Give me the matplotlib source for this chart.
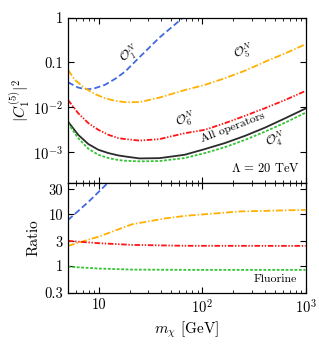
import numpy as np
import matplotlib
matplotlib.use("Agg")
import matplotlib.pyplot as plt
from matplotlib.ticker import FixedLocator, FixedFormatter, LogLocator, NullLocator, NullFormatter

plt.rcParams["font.family"] = ["cmr10", "DejaVu Serif"]
plt.rcParams["mathtext.fontset"] = "cm"
plt.rcParams["axes.unicode_minus"] = False
plt.rcParams["lines.scale_dashes"] = False

# top panel: |C_1^(5)|^2 vs m_chi (GeV)
x_o1 = [5, 6.28, 7.3, 7.87, 9.14, 11.4, 14.3, 17.9, 24.6, 38.5, 50, 65]
y_o1 = [0.036, 0.0273, 0.0255, 0.0251, 0.0265, 0.0314, 0.0428, 0.0622, 0.13, 0.36, 0.6, 1.0]

x_o5 = [5, 5.83, 7.3, 9.14, 11.4, 14.3, 17.9, 24.6, 38.5, 67.5, 106, 166, 260, 407, 638, 1000]
y_o5 = [0.068, 0.0406, 0.0265, 0.0195, 0.0158, 0.0138, 0.0129, 0.0129, 0.0163, 0.024,
        0.0314, 0.0443, 0.0655, 0.104, 0.160, 0.255]

x_c = [5, 6.28, 7.87, 9.84, 12.3, 15.4, 17.9, 24.6, 38.5, 67.5, 106, 166, 260, 407, 638, 1000]
y_o6 = [0.0145, 0.0073, 0.00438, 0.0031, 0.0024, 0.00202, 0.00192, 0.00178, 0.00192, 0.0026,
        0.0031, 0.00438, 0.0064, 0.0095, 0.0145, 0.023]
y_all = [0.00475, 0.0024, 0.00149, 0.00111, 0.000935, 0.000828, 0.000785, 0.00071, 0.00072,
         0.000857, 0.00115, 0.00157, 0.00228, 0.00349, 0.00566, 0.0093]
y_o4 = [0.00438, 0.00202, 0.00117, 0.000857, 0.000724, 0.000653, 0.00063, 0.00061, 0.00062,
        0.000724, 0.000935, 0.00127, 0.00185, 0.00284, 0.00452, 0.0075]

# bottom panel: ratios
xr_o1 = [5, 7.9, 12.3, 15]
yr_o1 = [7.7, 17.3, 41, 59]
xr_o5 = [5, 10, 21, 44, 69, 232, 1000]
yr_o5 = [2.44, 3.7, 6.4, 8.3, 9.3, 11.3, 12.1]
xr = [5, 10, 21, 69, 1000]
yr_o6 = [3.05, 2.75, 2.55, 2.45, 2.44]
yr_o4 = [0.97, 0.89, 0.85, 0.84, 0.84]

blue = "#4169E1"
orange = "#FFB000"
red = "#FF1414"
green = "#33C433"
black = "#2b2b2b"
lw = 1.3
d_o1 = [4.5, 2.2]
d_o5 = [5, 1.5, 1, 1.5]
d_o6 = [4, 1.2, 1, 1.2, 1, 1.2]
d_o4 = [2, 1.2]

fig = plt.figure(figsize=(3.19, 3.51), dpi=100)
ax1 = fig.add_axes([0.213, 0.4786, 0.745, 0.471])
ax2 = fig.add_axes([0.213, 0.1652, 0.745, 0.3134])

ax1.plot(x_o1, y_o1, color=blue, lw=lw, dashes=d_o1)
ax1.plot(x_o5, y_o5, color=orange, lw=lw, dashes=d_o5)
ax1.plot(x_c, y_o6, color=red, lw=lw, dashes=d_o6)
ax1.plot(x_c, y_all, color=black, lw=lw)
ax1.plot(x_c, y_o4, color=green, lw=lw, dashes=d_o4)

ax2.plot(xr_o1, yr_o1, color=blue, lw=lw, dashes=d_o1)
ax2.plot(xr_o5, yr_o5, color=orange, lw=lw, dashes=d_o5)
ax2.plot(xr, yr_o6, color=red, lw=lw, dashes=d_o6)
ax2.plot(xr, yr_o4, color=green, lw=lw, dashes=d_o4)

for ax in (ax1, ax2):
    ax.set_xscale("log")
    ax.set_yscale("log")
    ax.set_xlim(5, 1000)
    ax.tick_params(which="both", direction="in", top=True, right=True, labelsize=10.5)
    ax.tick_params(which="major", length=4, width=0.8)
    ax.tick_params(which="minor", length=2, width=0.6)
    ax.xaxis.set_minor_locator(LogLocator(base=10, subs=np.arange(2, 10)))
    ax.xaxis.set_minor_formatter(NullFormatter())
    for s in ax.spines.values():
        s.set_linewidth(0.9)

ax1.set_ylim(2e-4, 1)
ax1.yaxis.set_major_locator(FixedLocator([1e-3, 1e-2, 0.1, 1]))
ax1.yaxis.set_major_formatter(FixedFormatter([r"$10^{-3}$", r"$10^{-2}$", "0.1", "1"]))
ax1.yaxis.set_minor_locator(NullLocator())
ax1.xaxis.set_major_formatter(NullFormatter())
ax1.set_ylabel(r"$|C_1^{(5)}|^2$", fontsize=11, labelpad=1)

ax2.set_ylim(0.3, 40)
ax2.yaxis.set_major_locator(FixedLocator([0.3, 1, 3, 10, 30]))
ax2.yaxis.set_major_formatter(FixedFormatter(["0.3", "1", "3", "10", "30"]))
ax2.yaxis.set_minor_locator(NullLocator())
ax2.xaxis.set_major_locator(FixedLocator([10, 100, 1000]))
ax2.xaxis.set_major_formatter(FixedFormatter(["10", r"$10^2$", r"$10^3$"]))
ax2.set_ylabel("Ratio", fontsize=11, labelpad=3)
ax2.set_xlabel(r"$m_\chi$ [GeV]", fontsize=11, labelpad=3)

ax1.text(19.5, 0.15, r"$\mathcal{O}_1^N$", fontsize=9, rotation=30, ha="center", va="center")
ax1.text(250, 0.18, r"$\mathcal{O}_5^N$", fontsize=9, rotation=15, ha="center", va="center")
ax1.text(68, 0.0052, r"$\mathcal{O}_6^N$", fontsize=9, rotation=15, ha="center", va="center")
ax1.text(199, 0.0036, "All operators", fontsize=8.5, rotation=21, ha="center", va="center")
ax1.text(510, 0.0019, r"$\mathcal{O}_4^N$", fontsize=9, rotation=15, ha="center", va="center")
ax1.text(0.975, 0.09, r"$\Lambda$ = 20 TeV", fontsize=9, ha="right", va="center", transform=ax1.transAxes)
ax2.text(0.962, 0.127, "Fluorine", fontsize=8.5, ha="right", va="center", transform=ax2.transAxes)

fig.savefig("out.png", dpi=100)
